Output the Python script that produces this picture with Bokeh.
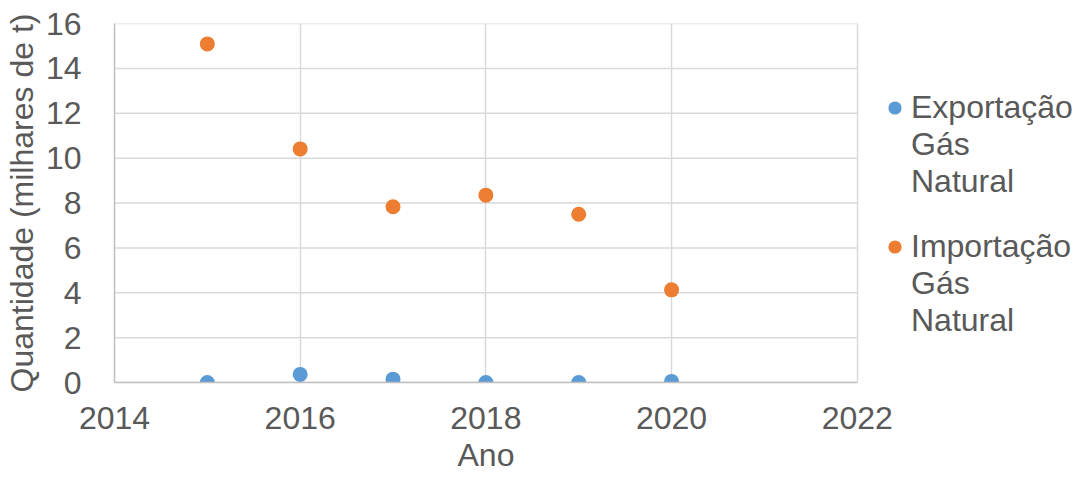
from bokeh.plotting import figure
from bokeh.models import Range1d, FixedTicker, Legend, LegendItem, ColumnDataSource, Title
from bokeh.embed import file_html
from bokeh.resources import INLINE

anos = [2015, 2016, 2017, 2018, 2019, 2020]
exportacao = [0.0, 0.36, 0.15, 0.0, 0.0, 0.05]
importacao = [15.09, 10.41, 7.83, 8.35, 7.5, 4.13]
x_ticks = [2014, 2016, 2018, 2020, 2022]
y_ticks = [0, 2, 4, 6, 8, 10, 12, 14, 16]
serie_exp = ["Exportação", "Gás", "Natural"]
serie_imp = ["Importação", "Gás", "Natural"]

TXT = "#595959"
GRID = "#D9D9D9"
FONT = "Liberation Sans"
FS = "32px"

W, H = 1081, 479
LEFT, TOP, BOTTOM = 113, 23, 97
PX_PER_SPAN = 743.5  # pixel width of the 2014..2022 span
x0, x1 = x_ticks[0], x_ticks[-1]
x_end = x0 + (x1 - x0) * (W - LEFT) / PX_PER_SPAN

p = figure(width=W, height=H, output_backend="svg", toolbar_location=None,
           x_range=Range1d(x0, x_end), y_range=Range1d(y_ticks[0], y_ticks[-1]),
           min_border_left=LEFT, min_border_right=0, min_border_top=TOP, min_border_bottom=BOTTOM)
p.outline_line_color = None

# horizontal grid lines limited to the 2014..2022 span
p.segment(x0=[x0] * len(y_ticks), x1=[x1] * len(y_ticks), y0=y_ticks, y1=y_ticks,
          line_color=GRID, line_width=1.5)

src_e = ColumnDataSource(dict(x=anos, y=exportacao))
src_i = ColumnDataSource(dict(x=anos, y=importacao))
r1 = p.scatter("x", "y", source=src_e, size=15, color="#5B9BD5", line_color=None)
r2 = p.scatter("x", "y", source=src_i, size=15, color="#ED7D31", line_color=None)
dummy = p.scatter(x=[], y=[], size=15, color="white", alpha=0)

for ax in (p.xaxis, p.yaxis):
    ax.major_tick_line_color = None
    ax.minor_tick_line_color = None
    ax.axis_line_color = "#BFBFBF"
    ax.axis_line_width = 1.5
    ax.major_label_text_font = FONT
    ax.major_label_text_font_size = FS
    ax.major_label_text_color = TXT
    ax.axis_label_text_font = FONT
    ax.axis_label_text_font_size = FS
    ax.axis_label_text_color = TXT
    ax.axis_label_text_font_style = "normal"

p.xaxis.ticker = FixedTicker(ticks=x_ticks)
p.yaxis.ticker = FixedTicker(ticks=y_ticks)
p.xaxis.bounds = (x0, x1)
p.yaxis.axis_label = "Quantidade (milhares de t)"
p.xaxis.major_label_standoff = 18
p.yaxis.major_label_standoff = 27
p.yaxis.axis_label_standoff = 3

# x-axis title, centred under the 2014..2022 span
t = Title(text="Ano", align="left", offset=343, standoff=6,
          text_font=FONT, text_font_size=FS, text_color=TXT, text_font_style="normal")
p.add_layout(t, "below")

p.xgrid.ticker = FixedTicker(ticks=x_ticks)
p.ygrid.visible = False
p.xgrid.grid_line_color = GRID
p.xgrid.grid_line_width = 1.5


def make_legend(lines, rend, loc):
    items = [LegendItem(label=lines[0], renderers=[rend])]
    items += [LegendItem(label=t, renderers=[dummy]) for t in lines[1:]]
    lg = Legend(items=items, location=loc)
    lg.border_line_color = None
    lg.background_fill_alpha = 0
    lg.label_text_font = FONT
    lg.label_text_font_size = FS
    lg.label_text_color = TXT
    lg.glyph_width = 33
    lg.glyph_height = 37
    lg.label_height = 37
    lg.spacing = 0
    lg.padding = 0
    lg.margin = 0
    lg.label_standoff = 0
    return lg


p.add_layout(make_legend(serie_exp, r1, (764, 182)), "center")
p.add_layout(make_legend(serie_imp, r2, (764, 43)), "center")

open("out.html", "w").write(file_html(p, INLINE))
